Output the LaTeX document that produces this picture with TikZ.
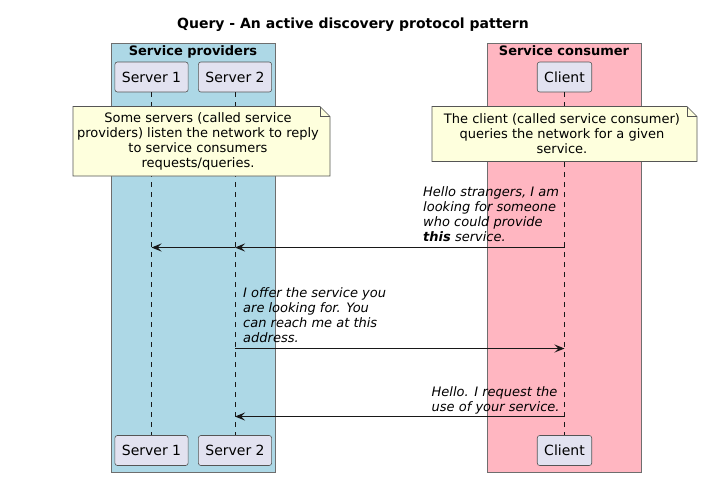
\documentclass[tikz,border=0pt]{standalone}
\usepackage{fontspec}
\setmainfont{DejaVu Sans}
\usetikzlibrary{arrows.meta}
\definecolor{partfill}{HTML}{E2E2F0}
\definecolor{lineclr}{HTML}{181818}
\definecolor{partborder}{HTML}{555555}
\definecolor{notefill}{HTML}{FEFFDD}
\definecolor{provfill}{HTML}{ADD8E6}
\definecolor{consfill}{HTML}{FFB6C1}
\definecolor{boxborder}{HTML}{6E6E6E}
\tikzset{
  part/.style={draw=partborder, line width=0.6pt, fill=partfill, rounded corners=2.5pt,
    minimum height=30pt, inner xsep=7pt, inner ysep=0pt, text depth=0pt,
    font=\fontsize{14}{16}\selectfont},
  lifeline/.style={draw=lineclr, line width=0.5pt, dash pattern=on 5pt off 5pt},
  msg/.style={draw=lineclr, line width=1pt, -{Stealth[length=10pt,width=8pt,inset=4pt]}},
  msgtext/.style={inner sep=0pt, align=left, text depth=0pt, anchor=south west,
    font=\fontsize{13}{15.1}\selectfont\itshape},
  notetext/.style={inner sep=0pt, align=center, text depth=0pt, anchor=south,
    font=\fontsize{13}{14.9}\selectfont},
  notebox/.style={draw=partborder, line width=0.6pt, fill=notefill},
  grpbox/.style={draw=boxborder, line width=0.8pt},
  grptitle/.style={inner sep=0pt, anchor=base, font=\fontsize{13}{15}\selectfont\bfseries},
}
\begin{document}
\begin{tikzpicture}[x=1pt,y=-1pt]
\useasboundingbox[fill=white] (0,0) rectangle (703,477);

% title
\node[inner sep=0pt, anchor=base, font=\fontsize{14}{16}\selectfont\bfseries] (title) at (353,28) {Query - An active discovery protocol pattern};

% group boxes
\draw[grpbox, fill=provfill] (111,43) rectangle (275,472);
\draw[grpbox, fill=consfill] (487,43) rectangle (641,472);
\node[grptitle] (provtitle) at (193,55) {Service providers};
\node[grptitle] (constitle) at (564,55) {Service consumer};

% participants
\node[part] (s1top) at (151.5,77) {Server 1};
\node[part] (s2top) at (235,77) {Server 2};
\node[part] (ctop) at (564.5,77) {Client};
\node[part] (s1bot) at (151.5,450.5) {Server 1};
\node[part] (s2bot) at (235,450.5) {Server 2};
\node[part] (cbot) at (564.5,450.5) {Client};

% lifelines
\draw[lifeline] (s1top) -- (s1bot);
\draw[lifeline] (s2top) -- (s2bot);
\draw[lifeline] (ctop) -- (cbot);

% notes
\draw[notebox] (73,106.5) -- (320,106.5) -- (330,116.5) -- (330,176) -- (73,176) -- cycle;
\draw[partborder, line width=0.6pt] (320,106.5) -- (320,116.5) -- (330,116.5);
\node[notetext] (note1) at (198,167.5) {Some servers (called service\\providers) listen the network to reply\\to service consumers\\requests/queries.};

\draw[notebox] (432,106.5) -- (687,106.5) -- (697,116.5) -- (697,161.5) -- (432,161.5) -- cycle;
\draw[partborder, line width=0.6pt] (687,106.5) -- (687,116.5) -- (697,116.5);
\node[notetext] (note2) at (562,153.5) {The client (called service consumer)\\queries the network for a given\\service.};

% messages
\coordinate (m1) at (0,247.5);
\coordinate (m2) at (0,348.5);
\coordinate (m3) at (0,416.5);

\draw[msg] (ctop |- m1) -- (s2top |- m1);
\draw[msg] (s2top |- m1) -- (s1top |- m1);
\node[msgtext] (t1) at (423,241.5) {Hello strangers, I am\\looking for someone\\who could provide\\\textbf{this} service.};

\draw[msg] (s2top |- m2) -- (ctop |- m2);
\node[msgtext] (t2) at (243,342.5) {I offer the service you\\are looking for. You\\can reach me at this\\address.};

\draw[msg] (ctop |- m3) -- (s2top |- m3);
\node[msgtext] (t3) at (431.5,412) {Hello. I request the\\use of your service.};
\end{tikzpicture}
\end{document}
